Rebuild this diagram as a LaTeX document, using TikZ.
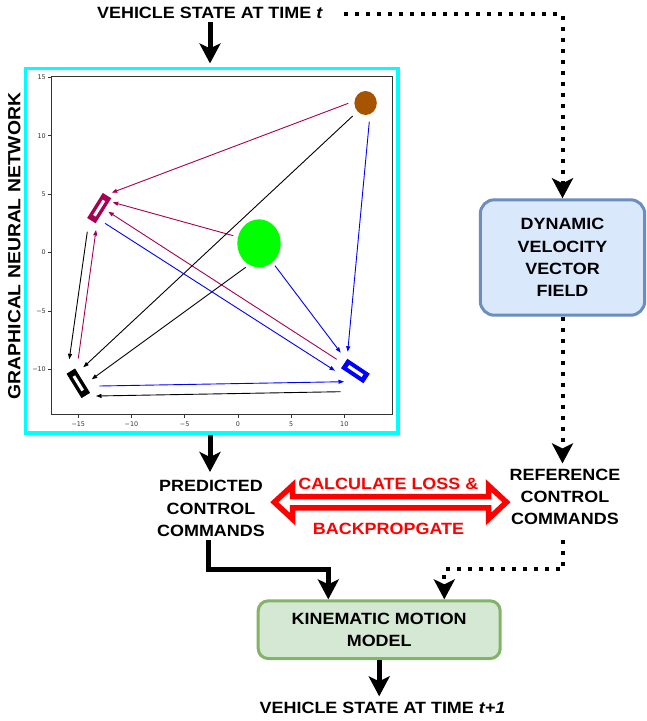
\documentclass[tikz,border=0pt]{standalone}
\usepackage{fontspec}
\setmainfont{Liberation Sans}[FakeStretch=1.1]
\newfontfamily\tickfont{DejaVu Sans}
\usetikzlibrary{arrows.meta,calc}
\definecolor{cyanb}{RGB}{0,255,255}
\definecolor{dvfill}{HTML}{DAE8FC}
\definecolor{dvline}{HTML}{6C8EBF}
\definecolor{kmfill}{HTML}{D5E8D4}
\definecolor{kmline}{HTML}{82B366}
\definecolor{magc}{RGB}{166,0,85}
\definecolor{brownc}{RGB}{166,84,0}
\definecolor{greenc}{RGB}{0,255,0}
\definecolor{bluec}{RGB}{0,0,255}
\definecolor{redc}{RGB}{255,0,0}
\begin{document}
\begin{tikzpicture}[x=1pt,y=-1pt,
  lbl/.style={font=\fontsize{16.3}{22.3}\selectfont\bfseries, align=center, inner sep=3pt},
  redlbl/.style={lbl, text=redc},
  bigarrow/.style={line width=5pt, -{Stealth[length=20pt,width=21pt,inset=5pt]}},
  dotarrow/.style={line width=4pt, dash pattern=on 4pt off 7pt, -{Stealth[length=20pt,width=21pt,inset=5pt]}},
  boxdv/.style={lbl, draw=dvline, fill=dvfill, line width=3pt, rounded corners=14pt, minimum width=164.4pt, minimum height=115.4pt, inner sep=0pt},
  boxkm/.style={lbl, draw=kmline, fill=kmfill, line width=3pt, rounded corners=10pt, minimum width=242pt, minimum height=57.7pt, inner sep=0pt},
  plotarrow/.style={line width=0.9pt, -{Stealth[length=5.5pt,width=4pt,inset=0pt]}},
  ticklbl/.style={font=\tickfont\fontsize{6.4}{7}\selectfont, text=black!80, inner sep=0pt}
]
\useasboundingbox (0,0) rectangle (647,721);

% ---------- texts and boxes ----------
\node[lbl, anchor=base] (top) at (210,18.8) {VEHICLE STATE AT TIME \textit{t}};
\node[draw=cyanb, line width=3.5pt, minimum width=372.1pt, minimum height=364.1pt, inner sep=0pt] (gnn) at (211.75,250.75) {};
\node[lbl, font=\fontsize{17.6}{20}\selectfont\bfseries, rotate=90] (side) at (14.2,246) {GRAPHICAL NEURAL NETWORK};
\node[boxdv] (dvvf) at (562.5,257.5) {DYNAMIC\\VELOCITY\\VECTOR\\FIELD};
\node[lbl] (pred) at (211,508.5) {PREDICTED\\CONTROL\\COMMANDS};
\node[lbl] (ref) at (565,496.7) {REFERENCE\\CONTROL\\COMMANDS};
\node[redlbl] (loss1) at (388.3,484.3) {CALCULATE LOSS \&};
\node[redlbl] (loss2) at (388.5,529) {BACKPROPGATE};
\node[boxkm] (kin) at (379.2,629.7) {KINEMATIC MOTION\\MODEL};
\node[lbl] (bot) at (382.5,708.3) {VEHICLE STATE AT TIME \textit{t+1}};

% ---------- red double arrow ----------
\draw[redc, line width=5.5pt, fill=white, miter limit=10]
  (274.3,502.2) -- (292.5,485.5) -- (292.5,496.6) -- (488.5,496.6) -- (488.5,485.5)
  -- (506.4,502.2) -- (488.5,519) -- (488.5,507.8) -- (292.5,507.8) -- (292.5,519) -- cycle;

% ---------- connectors ----------
\draw[bigarrow, shorten >=3.5pt] (top.south) -- (top.south |- gnn.north);
\draw[bigarrow, shorten >=3pt] (gnn.south -| 210,0) -- (210,475);
\draw[dotarrow] ([xshift=18pt,yshift=-0.9pt]top.east) -| (dvvf.north);
\draw[dotarrow, shorten >=2pt] (dvvf.south) -- (dvvf.south |- ref.north);
\coordinate (pk) at (328.3,569.3);
\coordinate (rk) at (444.3,569.3);
\draw[bigarrow] ([xshift=-2.5pt]pred.south) |- (pk) -- (pk |- kin.north);
\draw[dotarrow] ([xshift=-1.7pt,yshift=-12pt]ref.south) |- (rk) -- (rk |- kin.north);
\draw[bigarrow, shorten >=3pt] (kin.south) -- (kin.south |- bot.north);

% ---------- plot ----------
\draw[black!80, line width=0.8pt] (51.7,76) rectangle (392,414);
\foreach \v/\p in {−15/78.3, −10/131.5, −5/184.7, 0/237.9, 5/291.1, 10/344.3} {
  \draw[black!80, line width=0.7pt] (\p,414) -- (\p,417.5);
  \node[ticklbl] at (\p,424.5) {\v};
}
\foreach \v/\p in {15/77.3, 10/135.7, 5/194.1, 0/252.5, −5/310.9, −10/369.3} {
  \draw[black!80, line width=0.7pt] (51.7,\p) -- (48.2,\p);
  \node[ticklbl, anchor=east] at (46,\p) {\v};
}

% objects
\fill[brownc] (365.6,103) ellipse [x radius=11.2pt, y radius=12pt];
\fill[greenc] (259,243.3) ellipse [x radius=21.7pt, y radius=24pt];
\begin{scope}[shift={(99.2,208.1)}, rotate=58]
  \fill[magc] (-14.75,-5) rectangle (14.75,5);
  \fill[white] (-9,-1.5) rectangle (9,1.5);
\end{scope}
\begin{scope}[shift={(78.3,383.3)}, rotate=-58.4]
  \fill[black] (-14.3,-5) rectangle (14.3,5);
  \fill[white] (-8.5,-1.5) rectangle (8.5,1.5);
\end{scope}
\begin{scope}[shift={(355.4,371)}, rotate=-33.7]
  \fill[bluec] (-13.5,-5.7) rectangle (13.5,5.7);
  \fill[white] (-8.5,-1.6) rectangle (8.5,1.6);
\end{scope}

% plot arrows
\draw[plotarrow, magc] (348.3,103.3) -- (111.7,192.7);
\draw[plotarrow, magc] (233.3,235.7) -- (112.7,202.3);
\draw[plotarrow, magc] (336.7,359.3) -- (108.3,211.7);
\draw[plotarrow, magc] (78.3,358.3) -- (96,230);
\draw[plotarrow, black] (352.7,116) -- (83.3,367.3);
\draw[plotarrow, black] (245.7,267.3) -- (91.7,379.3);
\draw[plotarrow, black] (87.3,231.7) -- (69.3,359.3);
\draw[plotarrow, black] (340.7,391.7) -- (96,396);
\draw[plotarrow, bluec] (369.3,121.7) -- (347.7,351.7);
\draw[plotarrow, bluec] (275,265.7) -- (340.7,352.7);
\draw[plotarrow, bluec] (105,223.3) -- (335,370.7);
\draw[plotarrow, bluec] (99.3,386) -- (344,381.7);
\end{tikzpicture}
\end{document}
